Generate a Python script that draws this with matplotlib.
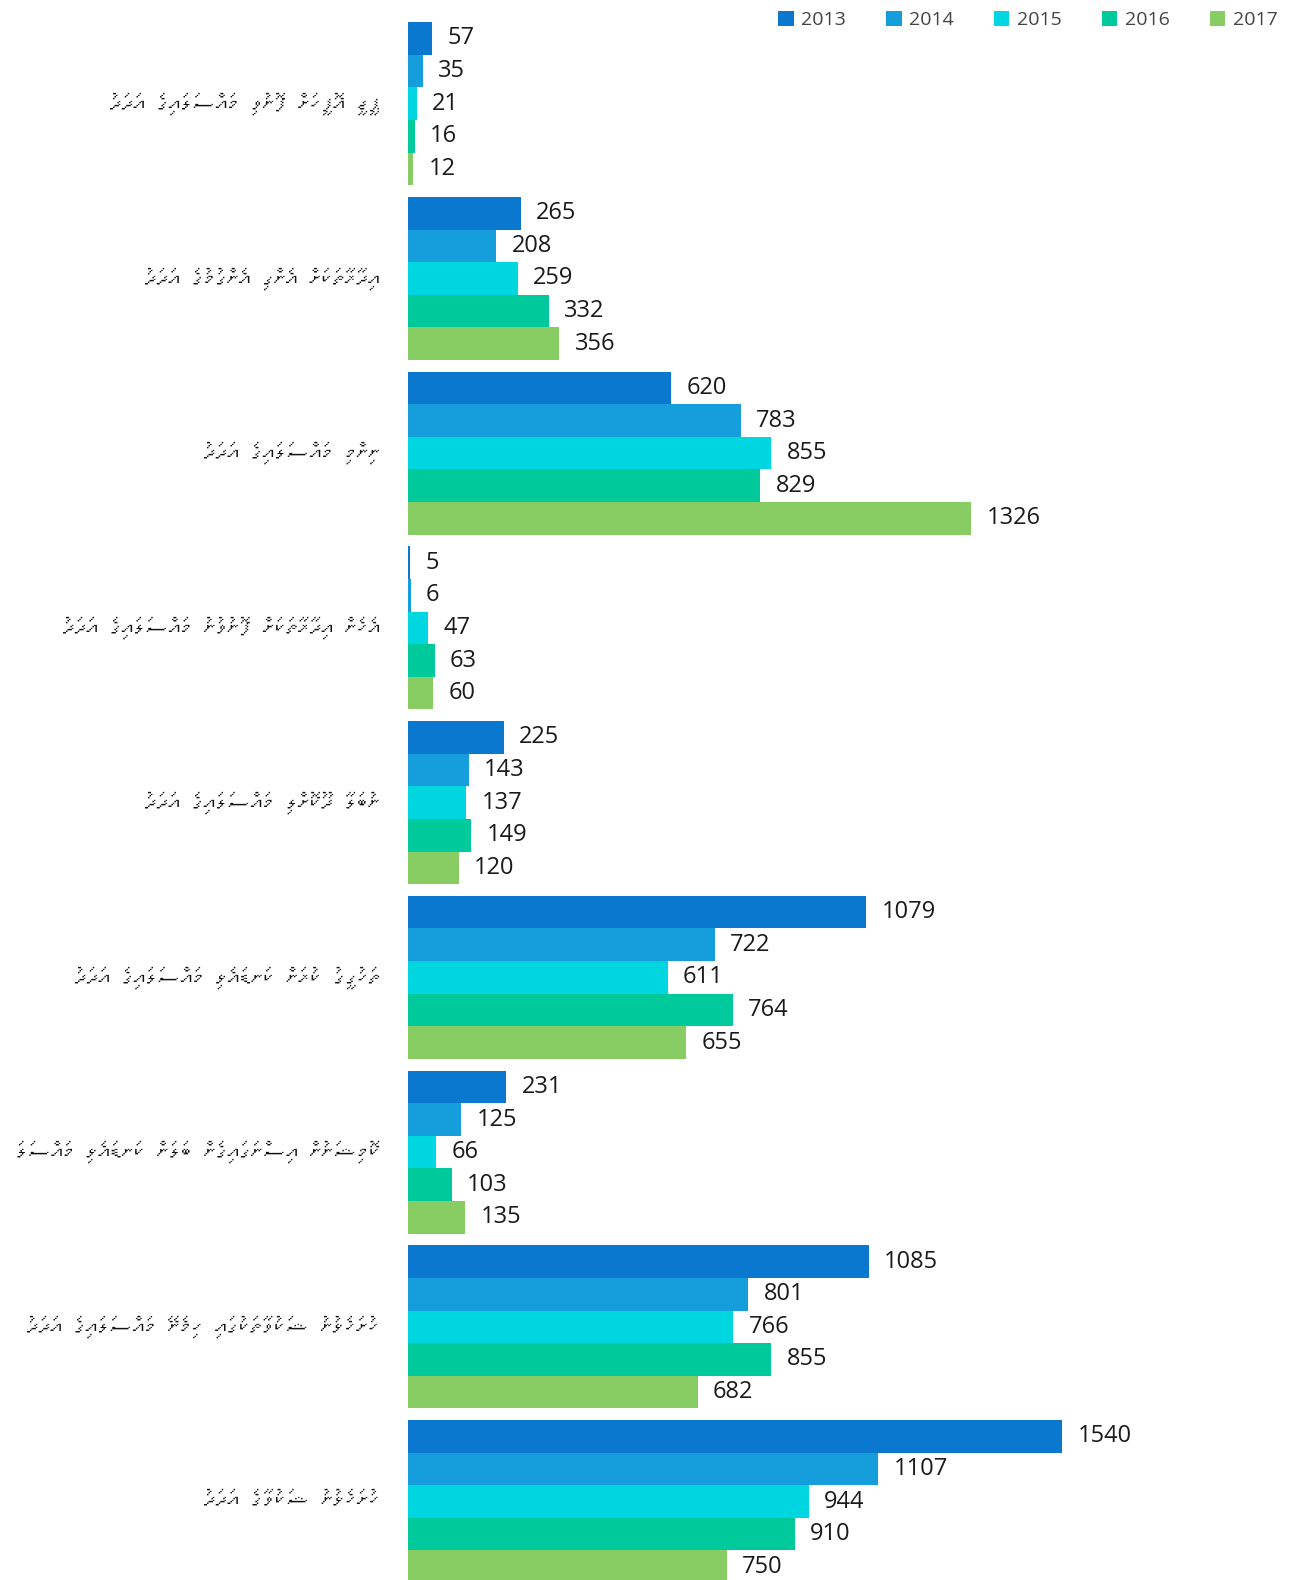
import matplotlib
matplotlib.use("Agg")
import matplotlib.pyplot as plt
from matplotlib import font_manager
from matplotlib.ft2font import FT2Font

# category labels (Dhivehi, logical order), top to bottom
categories = [
    "ޕީޖީ އޮފީހަށް ފޮނުވި މައްސަލައިގެ އަދަދު",
    "އިދާރާތަކަށް އެންގި އެންގުމުގެ އަދަދު",
    "ނިންމި މައްސަލައިގެ އަދަދު",
    "އެހެން އިދާރާތަކަށް ފޮނުވުނު މައްސަލައިގެ އަދަދު",
    "ނުބަލާ ދޫކޮށްލި މައްސަލައިގެ އަދަދު",
    "ތަހުގީގު ކުރަން ކަނޑައެޅި މައްސަލައިގެ އަދަދު",
    "ކޮމިޝަނުން އިސްނަގައިގެން ބަލަން ކަނޑައެޅި މައްސަލަ",
    "ހުށަހެޅުނު ޝަކުވާތަކުގައި ހިމެނޭ މައްސަލައިގެ އަދަދު",
    "ހުށަހެޅުނު ޝަކުވާގެ އަދަދު",
]
years = ["2013", "2014", "2015", "2016", "2017"]
v2013 = [57, 265, 620, 5, 225, 1079, 231, 1085, 1540]
v2014 = [35, 208, 783, 6, 143, 722, 125, 801, 1107]
v2015 = [21, 259, 855, 47, 137, 611, 66, 766, 944]
v2016 = [16, 332, 829, 63, 149, 764, 103, 855, 910]
v2017 = [12, 356, 1326, 60, 120, 655, 135, 682, 750]
series = [v2013, v2014, v2015, v2016, v2017]
colors = ["#0a78cf", "#169ddb", "#00d6df", "#00c99c", "#88cc64"]

NUM_FONT = ["Open Sans", "DejaVu Sans"]


def find_thaana_family():
    # look for any installed font that has Thaana glyphs
    for f in font_manager.fontManager.ttflist:
        try:
            if 0x0780 in FT2Font(f.fname).get_charmap():
                return f.name
        except Exception:
            pass
    return "DejaVu Sans"


def visual_order(text):
    # matplotlib has no bidi: draw the string reversed (fili land before their letter,
    # which is where the font's zero-width marks expect to be)
    return text[::-1]


thaana_font = find_thaana_family()

W, H = 1289, 1580
fig = plt.figure(figsize=(W / 100, H / 100), dpi=100)
left_px = 408
ax = fig.add_axes([left_px / W, 0, 1 - left_px / W, 1])

bar_px = 32.6          # one bar = one data unit
pitch = 5.36           # group pitch in bar units
px_per_val = 0.4248

for i, (vals, col, yr) in enumerate(zip(series, colors, years)):
    ys = [g * pitch + i + 0.5 for g in range(len(categories))]
    ax.barh(ys, vals, height=1.0, color=col, label=yr, linewidth=0)
    for y, v in zip(ys, vals):
        ax.annotate(str(v), (v, y), xytext=(11, 0), textcoords="offset points",
                    ha="left", va="center", fontsize=17, family=NUM_FONT,
                    color="#1a1a1a")

for g, cat in enumerate(categories):
    yc = g * pitch + 2.5
    ax.annotate(visual_order(cat), (0, yc), xytext=(-20, 0), textcoords="offset points",
                ha="right", va="center", fontsize=17, fontweight="bold",
                family=[thaana_font, "DejaVu Sans"], color="#111111",
                annotation_clip=False)

top = -22.2 / bar_px
ax.set_ylim((H - 22.2) / bar_px, top)
ax.set_xlim(0, (W - left_px) / px_per_val)
ax.axis("off")

leg = fig.legend(loc="upper right", bbox_to_anchor=(1278 / W, 1 - 11 / H), ncol=5,
                 frameon=False, handlelength=0.8, handleheight=0.8,
                 handletextpad=0.4, columnspacing=2.05, borderaxespad=0, borderpad=0,
                 prop={"family": NUM_FONT, "size": 14})
for t in leg.get_texts():
    t.set_color("#444444")

fig.savefig("out.png", dpi=100, facecolor="white")
